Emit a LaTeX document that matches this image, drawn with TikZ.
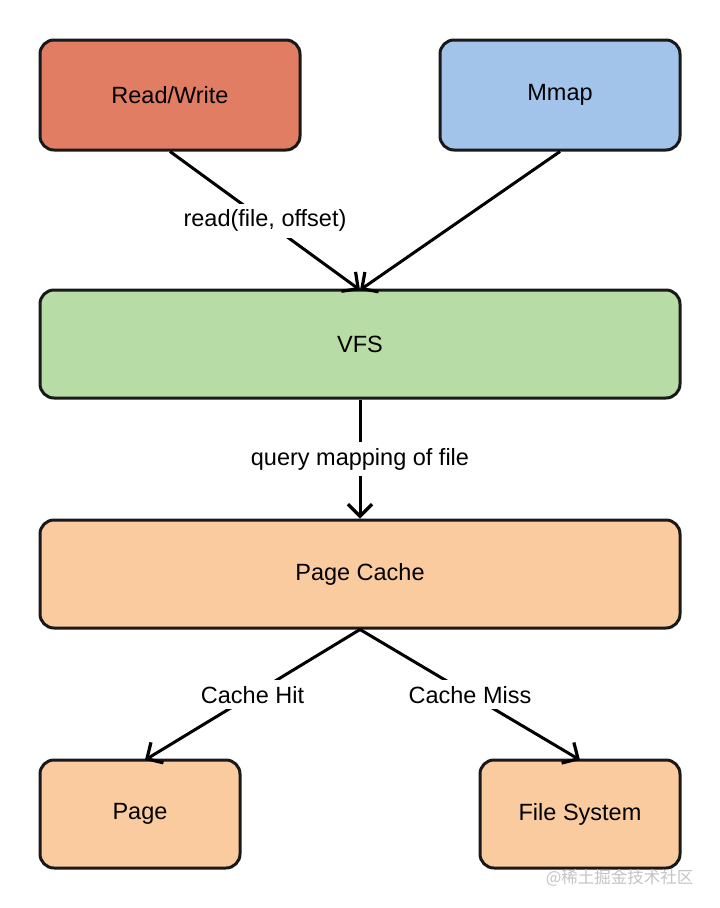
\documentclass[tikz,border=0pt]{standalone}
\usepackage{fontspec}
\setmainfont{Liberation Sans}
\newfontfamily\cjk{Noto Sans CJK SC}
\usetikzlibrary{arrows.meta}
\definecolor{rwred}{HTML}{E17D63}
\definecolor{mmblue}{HTML}{A2C4EA}
\definecolor{vfsgreen}{HTML}{B7DCA5}
\definecolor{pcorange}{HTML}{F9CB9F}
\definecolor{wmgray}{HTML}{C4C4C4}
\tikzset{
  box/.style={draw=black!90, line width=3pt, rounded corners=14pt, inner sep=0pt, font=\fontsize{23.5}{27}\selectfont},
  conn/.style={line width=3pt, -{Straight Barb[length=12pt,width=24pt,line width=3.2pt]}},
  lbl/.style={fill=white, inner xsep=3pt, inner ysep=6pt, font=\fontsize{23.5}{27}\selectfont},
}
\begin{document}
\begin{tikzpicture}[x=1pt,y=-1pt]
\useasboundingbox[fill=white] (0,0) rectangle (720,908);
\node[box, fill=rwred, minimum width=260pt, minimum height=110pt] (rw) at (170,95) {Read/Write};
\node[box, fill=mmblue, minimum width=240pt, minimum height=110pt] (mm) at (560,95) {Mmap};
\node[box, fill=vfsgreen, minimum width=640pt, minimum height=108pt] (vfs) at (360,344) {VFS};
\node[box, fill=pcorange, minimum width=640pt, minimum height=108pt] (pc) at (360,574) {Page Cache};
\node[box, fill=pcorange, minimum width=200pt, minimum height=108pt] (pg) at (140,814) {Page};
\node[box, fill=pcorange, minimum width=200pt, minimum height=108pt] (fs) at (580,814) {File System};
\coordinate (vfstop) at (360,290);
\coordinate (pgtop) at (145,760);
\coordinate (fstop) at (580,760);
\draw[conn] (rw.south) -- node[lbl] {read(file, offset)} (vfstop);
\draw[conn] (mm.south) -- (vfstop);
\draw[conn] (vfs.south) -- node[lbl] {query mapping of file} (pc.north);
\draw[conn] (pc.south) -- node[lbl] {Cache Hit} (pgtop);
\draw[conn] (pc.south) -- node[lbl] {Cache Miss} (fstop);
\node[text=wmgray, font=\cjk\fontsize{16.5}{18}\selectfont, anchor=east] (wm) at (697,878) {@稀土掘金技术社区};
\end{tikzpicture}
\end{document}
